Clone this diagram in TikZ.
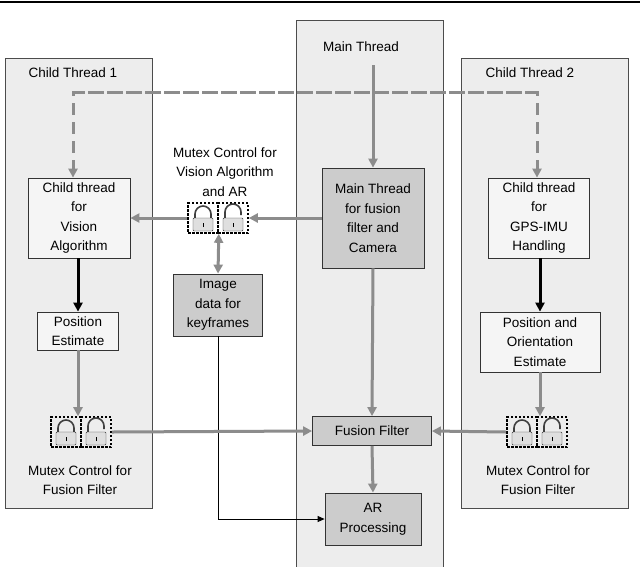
\documentclass[tikz,border=0pt]{standalone}
\usepackage{fontspec}
\setmainfont{Liberation Sans}
\usetikzlibrary{arrows.meta}
\definecolor{panel}{gray}{0.93}
\definecolor{lbox}{gray}{0.96}
\definecolor{dbox}{gray}{0.80}
\definecolor{ln}{gray}{0.55}
\begin{document}
\begin{tikzpicture}[x=1pt,y=-1pt,
  every node/.style={font=\fontsize{13.5}{19.5}\selectfont, align=center},
  panel/.style={draw=black!70, fill=panel},
  lb/.style={draw=black!80, line width=0.8pt, fill=lbox, inner sep=0pt},
  db/.style={draw=black!80, line width=0.8pt, fill=dbox, inner sep=0pt},
  ga/.style={draw=ln, line width=3pt, -{Triangle[length=9pt,width=9pt]}},
  ba/.style={draw=black, line width=3pt, -{Triangle[length=9pt,width=9pt]}},
  lockbox/.style={draw=black, line width=1.6pt, dash pattern=on 2.5pt off 1.5pt, minimum width=30pt, minimum height=30pt, inner sep=0pt}]
\useasboundingbox (0,0) rectangle (640,566);
\fill[white] (0,0) rectangle (640,566);
\draw[line width=1.2pt] (0,2) -- (640,2);
% panels
\draw[panel] (5,58) rectangle (152,508);
\draw[panel] (296,20) rectangle (443,570);
\draw[panel] (461,58) rectangle (628,508);
\node (t1) at (73,73) {Child Thread 1};
\node (tm) at (361,47) {Main Thread};
\node (t2) at (530,73) {Child Thread 2};
% boxes
\node[lb, minimum width=102pt, minimum height=80pt] (cv) at (79,218) {Child thread\\for\\Vision\\Algorithm};
\node[lb, minimum width=81pt, minimum height=38pt] (pe) at (78,331) {Position\\Estimate};
\node[db, minimum width=102pt, minimum height=100pt] (mt) at (373,218) {Main Thread\\for fusion\\filter and\\Camera};
\node[db, minimum width=89pt, minimum height=62pt] (im) at (218,305) {Image\\data for\\keyframes};
\node[db, minimum width=119pt, minimum height=29pt] (ff) at (372,431) {Fusion Filter};
\node[db, minimum width=96pt, minimum height=52pt] (ar) at (373,519) {AR\\Processing};
\node[lb, minimum width=101pt, minimum height=80pt] (cg) at (539,218) {Child thread\\for\\GPS-IMU\\Handling};
\node[lb, minimum width=120pt, minimum height=60pt] (po) at (540,342) {Position and\\Orientation\\Estimate};
% locks
\tikzset{pics/lock/.style 2 args={code={
  \node[lockbox] (#1-a) at (-15,0) {};
  \node[lockbox] (#1-b) at (15,0) {};
  \draw[black!75, line width=1.6pt] (-23,2) -- (-23,-4) arc[start angle=180,end angle=360,radius=8] -- (-7,2);
  \draw[black!75, line width=1.6pt] (7,2) -- (7,-6) arc[start angle=180,end angle=360,radius=8] -- (23,-3);
  \draw[black!80, fill=gray!25, rounded corners=1pt] (-25,0) rectangle (-5,13);
  \draw[black!80, fill=gray!25, rounded corners=1pt] (5,0) rectangle (25,13);
  \draw[line width=0.7pt] (-15,9) -- (-15,5); \draw[line width=0.7pt] (15,9) -- (15,5);
  \coordinate (#1) at (0,0);
}}}
\pic at (218,218) {lock={lv}{}};
\pic at (81,432) {lock={l1}{}};
\pic at (537,432) {lock={l2}{}};
\node (mv) at (225,172) {Mutex Control for\\Vision Algorithm\\and AR};
\node (m1) at (80,480) {Mutex Control for\\Fusion Filter};
\node (m2) at (538,480) {Mutex Control for\\Fusion Filter};
% connectors
\coordinate (dl) at (73,92); \coordinate (dr) at (537,92);
\draw[draw=ln, line width=3pt, dash pattern=on 12pt off 7pt, -{Triangle[length=9pt,width=9pt]}] (dr) -- (dl) -- (cv.north -| dl);
\draw[draw=ln, line width=3pt, dash pattern=on 12pt off 7pt, -{Triangle[length=9pt,width=9pt]}] (dl) -- (dr) -- (cg.north -| dr);
\coordinate (ms) at (373,65);
\draw[ga] (ms) -- (mt.north);
\draw[ga] (mt.west) -- (lv-b.east);
\draw[ga] (lv-a.west) -- (cv.east);
\draw[ga, {Triangle[length=9pt,width=9pt]}-{Triangle[length=9pt,width=9pt]}] (lv-a.south east) -- (im.north);
\draw[line width=0.8pt, -{Triangle[length=7pt,width=6pt]}] (im.south) |- (ar.west);
\draw[ba] (cv.south -| pe.north) -- (pe.north);
\draw[ba] (cg.south -| po.north) -- (po.north);
\draw[ga] (pe.south) -- (pe.south |- l1-a.north);
\draw[ga] (po.south) -- (po.south |- l2-a.north);
\draw[ga] (l1-b.east) -- (ff.west);
\draw[ga] (l2-a.west) -- (ff.east);
\draw[ga] (mt.south) -- (ff.north);
\draw[ga] (ff.south) -- (ar.north);
\end{tikzpicture}
\end{document}
